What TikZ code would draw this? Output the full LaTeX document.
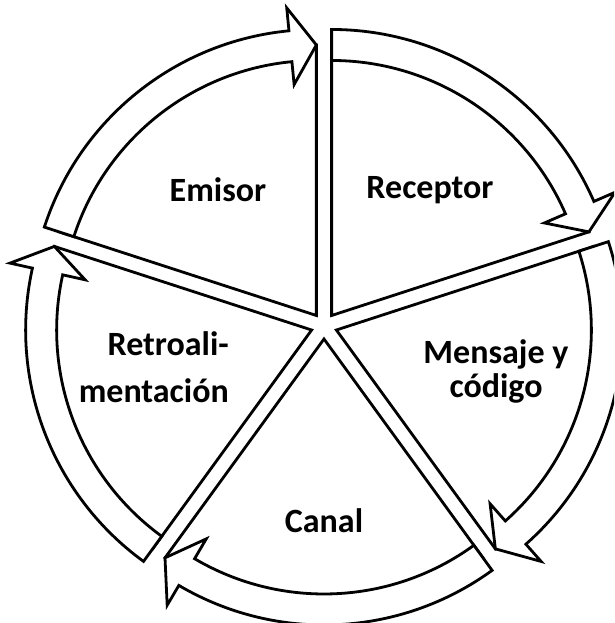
\documentclass[tikz,border=0pt]{standalone}
\usepackage{fontspec}
\setmainfont{Carlito}
\begin{document}
\begin{tikzpicture}[x=1pt,y=1pt,
  seg/.style={draw=black, fill=white, line width=2.8pt, line join=miter},
  lbl/.style={font=\fontsize{34}{40}\selectfont\bfseries, inner sep=0pt}]
\useasboundingbox (0,0) rectangle (614,623);
\clip (0,0) rectangle (614,623);
\def\ri{255}\def\ro{286}\def\rmid{270.5}\def\bi{232}\def\bo{309}\def\hh{5.5}
\foreach \b in {126,54,-18,-90,198} {
  \begin{scope}[shift={(324,297)}, shift={(\b:13)}]
   \pgfmathsetmacro\sa{\b+36}
   \pgfmathsetmacro\ea{\b-36}
   \pgfmathsetmacro\ha{\b-36+\hh}
   \draw[seg] (0,0) -- (\sa:\rmid) arc[start angle=\sa, end angle=\ea, radius=\rmid] -- cycle;
   \draw[seg] (\sa:\ri) -- (\sa:\ro) arc[start angle=\sa, end angle=\ha, radius=\ro] -- (\ha:\bo) -- (\ea:\rmid) -- (\ha:\bi) -- (\ha:\ri) arc[start angle=\ha, end angle=\sa, radius=\ri] -- cycle;
  \end{scope}
}
\node[lbl, anchor=base] (emisor) at (218,421) {Emisor};
\node[lbl, anchor=base] (receptor) at (430,424) {Receptor};
\node[lbl, anchor=base east] (retro1) at (229,267) {Retroali-};
\node[lbl, anchor=base east] (retro2) at (229,220) {mentación};
\node[lbl, anchor=base] (mensaje1) at (496,259) {Mensaje y};
\node[lbl, anchor=base] (mensaje2) at (496,225) {código};
\node[lbl, anchor=base] (canal) at (324,90.5) {Canal};
\end{tikzpicture}
\end{document}
